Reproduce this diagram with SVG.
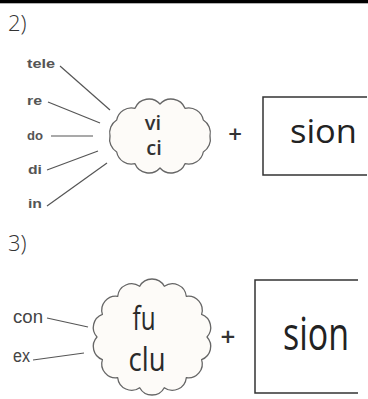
<svg xmlns="http://www.w3.org/2000/svg" width="368" height="399" viewBox="0 0 368 399">
<style>
.num{font-family:"Open Sans","Liberation Sans",sans-serif;font-weight:300;font-size:22px;fill:#333}
.lbl{font-family:"Liberation Sans","DejaVu Sans",sans-serif;font-weight:bold;font-size:13px;fill:#555}
.lbl3{font-family:"Liberation Sans","DejaVu Sans",sans-serif;font-size:18px;fill:#444}
.cloud{fill:#fdfbf8;stroke:#666;stroke-width:1.3;stroke-linejoin:round}
.syl{font-family:"Open Sans","Liberation Sans",sans-serif;font-weight:600;font-size:20px;fill:#333;text-anchor:middle}
.syl3{font-family:"Open Sans","Liberation Sans",sans-serif;font-size:32px;fill:#2a2a2a;text-anchor:middle}
.plus{font-family:"Open Sans","Liberation Sans",sans-serif;font-weight:600;fill:#333;text-anchor:middle}
.box{fill:none;stroke:#333;stroke-width:1.5}
.sion{font-family:"Open Sans","Liberation Sans",sans-serif;fill:#222}
.conn line{stroke:#555;stroke-width:1.2}
</style>
<rect x="0" y="0" width="368" height="3.3" fill="#000"/>
<text class="num" x="8" y="31">2)</text>
<text class="num" x="8" y="251">3)</text>

<g id="connectors" class="conn">
<line x1="60" y1="66" x2="110" y2="110"/>
<line x1="48" y1="102" x2="100" y2="123"/>
<line x1="51" y1="136" x2="93" y2="136"/>
<line x1="47" y1="170" x2="98" y2="151"/>
<line x1="47" y1="206" x2="107" y2="163"/>
<line x1="47" y1="318" x2="88" y2="327"/>
<line x1="33" y1="360" x2="84" y2="353"/>
</g>

<g id="lbl-tele"><text class="lbl" x="27" y="68" textLength="28" lengthAdjust="spacingAndGlyphs">tele</text></g>
<g id="lbl-re"><text class="lbl" x="27" y="105" textLength="15" lengthAdjust="spacingAndGlyphs">re</text></g>
<g id="lbl-do"><text class="lbl" x="27" y="140" textLength="16" lengthAdjust="spacingAndGlyphs">do</text></g>
<g id="lbl-di"><text class="lbl" x="28" y="174" textLength="14" lengthAdjust="spacingAndGlyphs">di</text></g>
<g id="lbl-in"><text class="lbl" x="28" y="208" textLength="14" lengthAdjust="spacingAndGlyphs">in</text></g>

<g id="cloud1">
<path class="cloud" d="M210,136 A15,15 0 0 1 203.3,152 A15,15 0 0 1 185,163.7 A15,15 0 0 1 160,168 A15,15 0 0 1 135,163.7 A15,15 0 0 1 116.7,152 A15,15 0 0 1 110,136 A15,15 0 0 1 116.7,120 A15,15 0 0 1 135,108.3 A15,15 0 0 1 160,104 A15,15 0 0 1 185,108.3 A15,15 0 0 1 203.3,120 A15,15 0 0 1 210,136 Z"/>
<text class="syl" x="153" y="130">vi</text>
<text class="syl" x="154" y="155">ci</text>
</g>

<g id="plus1"><text class="plus" x="235" y="143" font-size="24">+</text></g>

<g id="box1">
<path class="box" d="M367,97 H263 V175 H367"/>
<text class="sion" x="290" y="143" font-size="33" textLength="67" lengthAdjust="spacingAndGlyphs">sion</text>
</g>

<g id="lbl-con"><text class="lbl3" x="13" y="323" textLength="30" lengthAdjust="spacingAndGlyphs">con</text></g>
<g id="lbl-ex"><text class="lbl3" x="13" y="362" textLength="17" lengthAdjust="spacingAndGlyphs">ex</text></g>

<g id="cloud2">
<path class="cloud" d="M207,337 A14,14 0 0 1 201.6,359.6 A14,14 0 0 1 186.3,377.7 A14,14 0 0 1 164.3,387.7 A14,14 0 0 1 139.7,387.7 A14,14 0 0 1 117.7,377.7 A14,14 0 0 1 102.4,359.6 A14,14 0 0 1 97,337 A14,14 0 0 1 102.4,314.4 A14,14 0 0 1 117.7,296.3 A14,14 0 0 1 139.7,286.3 A14,14 0 0 1 164.3,286.3 A14,14 0 0 1 186.3,296.3 A14,14 0 0 1 201.6,314.4 A14,14 0 0 1 207,337 Z"/>
<text class="syl3" x="144" y="330" textLength="23" lengthAdjust="spacingAndGlyphs">fu</text>
<text class="syl3" x="147" y="371" textLength="37" lengthAdjust="spacingAndGlyphs">clu</text>
</g>

<g id="plus2"><text class="plus" x="228" y="346" font-size="26">+</text></g>

<g id="box2">
<path class="box" d="M358,280 H255 V393 H358"/>
<text class="sion" x="283" y="350" font-size="46" textLength="66" lengthAdjust="spacingAndGlyphs">sion</text>
</g>
</svg>
